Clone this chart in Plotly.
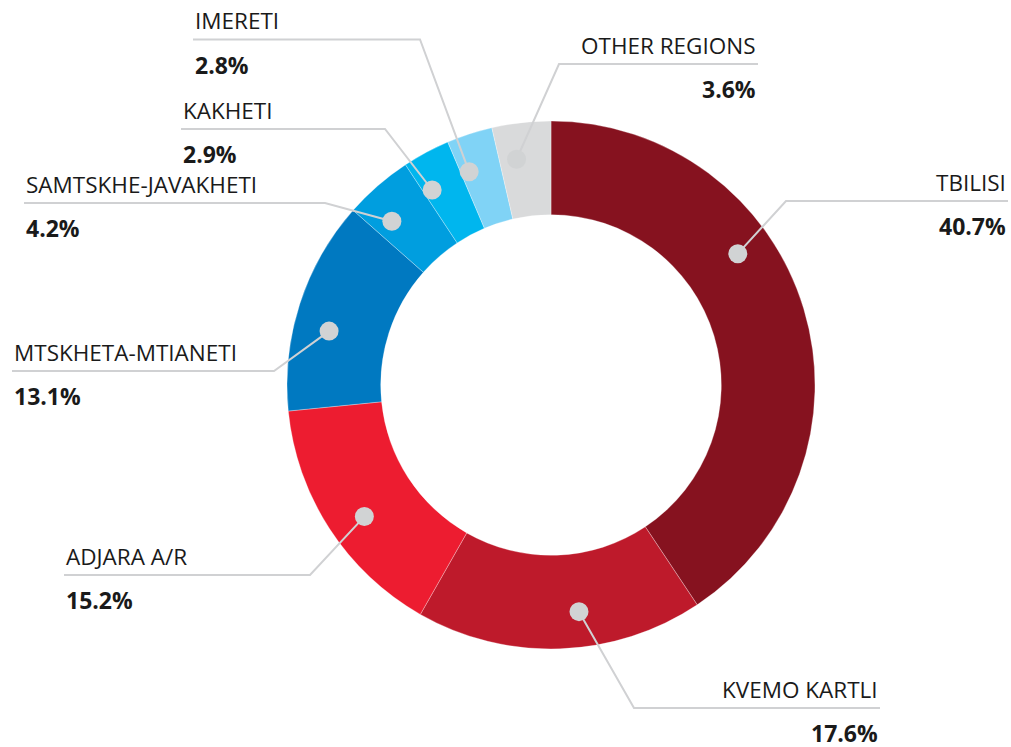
import math
import plotly.graph_objects as go

# ---- data ----
regions = ["TBILISI", "KVEMO KARTLI", "ADJARA A/R", "MTSKHETA-MTIANETI",
           "SAMTSKHE-JAVAKHETI", "KAKHETI", "IMERETI", "OTHER REGIONS"]
shares = [40.7, 17.6, 15.2, 13.1, 4.2, 2.9, 2.8, 3.6]

# ---- style / layout ----
colors = ["#86121F", "#BE1A2B", "#ED1C30", "#0079C1", "#009EDF", "#00B6EE", "#80D3F6", "#D9DADB"]
W, H = 1011, 747
CX, CY, R = 551, 385, 264
HOLE = 0.645
DOT_R = 0.865            # dot radius as fraction of R
DOT_FRAC = [0.375, 0.42, 0.46, 0.41, 0.29, 0.2, 0.2, 0.33]  # position of dot along slice
# leader elbow (px) and label edge x (px), label alignment
ELBOW = [(786, 201), (634, 708), (310, 575), (274, 371), (325, 203), (385, 129), (420, 39.5), (559, 64)]
LABEL_X = [1008, 880, 64, 12, 24, 181, 193, 758]
ALIGN = ["right", "right", "left", "left", "left", "left", "left", "right"]
LINE_COLOR = "#D0D1D3"
DOT_COLOR = "#D1D3D4"
TXT = "#1A1A1A"
FONT = "Open Sans"
NAME_SIZE = 22.5
PCT_SIZE = 23


def px(x):
    return x / W


def py(y):
    return 1 - y / H


fig = go.Figure()
fig.add_trace(go.Pie(
    labels=regions, values=shares, sort=False, direction="clockwise", rotation=0,
    hole=HOLE, textinfo="none", hoverinfo="label+value", showlegend=False,
    marker=dict(colors=colors, line=dict(color="rgba(255,255,255,0.5)", width=0.6)),
    domain=dict(x=[px(CX - R), px(CX + R)], y=[py(CY + R), py(CY - R)]),
))

total = sum(shares)
shapes, annotations = [], []
start = 0.0
dots = []
for i, v in enumerate(shares):
    span = v / total * 360
    ang = math.radians(start + DOT_FRAC[i] * span)
    start += span
    dx = CX + DOT_R * R * math.sin(ang)
    dy = CY - DOT_R * R * math.cos(ang)
    ex, ey = ELBOW[i]
    lx = LABEL_X[i]
    path = f"M {px(dx)},{py(dy)} L {px(ex)},{py(ey)} L {px(lx)},{py(ey)}"
    shapes.append(dict(type="path", xref="paper", yref="paper", path=path,
                       line=dict(color=LINE_COLOR, width=2), layer="above"))
    dots.append((dx, dy))
    xanchor = "right" if ALIGN[i] == "right" else "left"
    annotations.append(dict(xref="paper", yref="paper", x=px(lx), y=py(ey - 1),
                            xanchor=xanchor, yanchor="bottom", showarrow=False,
                            text=regions[i], font=dict(family=FONT, size=NAME_SIZE, color=TXT)))
    annotations.append(dict(xref="paper", yref="paper", x=px(lx), y=py(ey + 7),
                            xanchor=xanchor, yanchor="top", showarrow=False,
                            text=f"<b>{v:.1f}%</b>", font=dict(family=FONT, size=PCT_SIZE, color=TXT)))

rd = 9.5
for dx, dy in dots:
    shapes.append(dict(type="circle", xref="paper", yref="paper",
                       x0=px(dx - rd), x1=px(dx + rd), y0=py(dy + rd), y1=py(dy - rd),
                       fillcolor=DOT_COLOR, line=dict(width=0), layer="above"))

fig.update_layout(width=W, height=H, margin=dict(l=0, r=0, t=0, b=0),
                  paper_bgcolor="white", plot_bgcolor="white",
                  shapes=shapes, annotations=annotations)
fig.write_html("out.html", config={"displayModeBar": False},
               post_script="document.body.style.margin='0px';")
